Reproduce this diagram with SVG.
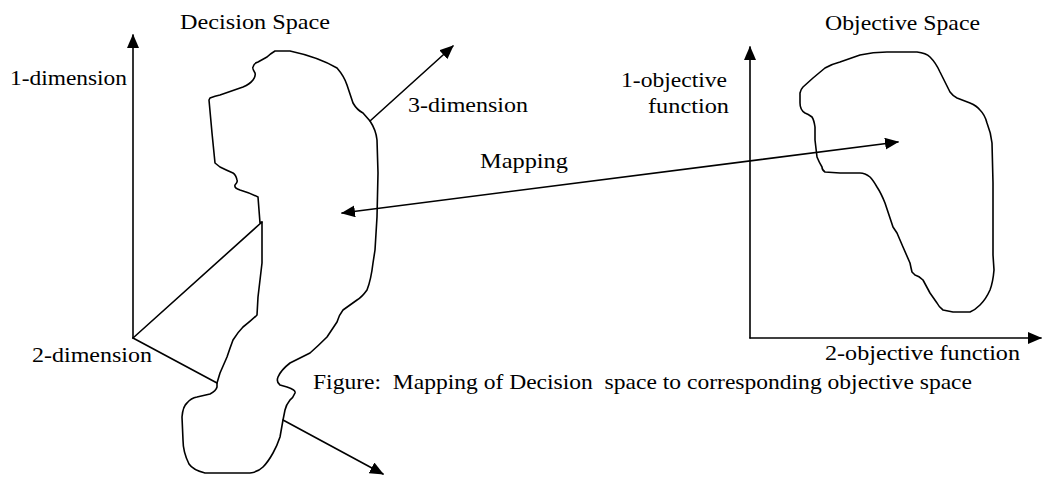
<svg xmlns="http://www.w3.org/2000/svg" width="1043" height="477" viewBox="0 0 1043 477">
<style>
text{font-family:"Liberation Serif","Times New Roman",serif;font-size:22px;fill:#000}
.ln{fill:none;stroke:#000;stroke-width:1.6;stroke-linejoin:round;stroke-linecap:round}
.blob{fill:none;stroke:#000;stroke-width:1.6;stroke-linejoin:round}
</style>
<defs>
<marker id="ah" viewBox="0 0 14 12" refX="13" refY="6" markerWidth="14" markerHeight="12" markerUnits="userSpaceOnUse" orient="auto-start-reverse">
<path d="M0,0 L14,6 L0,12 Z" fill="#000"/>
</marker>
</defs>
<rect width="1043" height="477" fill="#fff"/>

<g id="decision-space">
<path class="blob" d="M275,51 L290,51 Q318,57 337,68 Q344,76 347,85 L353,103 Q357,110 363,113 L370,121 Q376,130 377,140 L378,173 L377,217 L375,250 L373,263 Q371,280 367,290 Q362,297 357,300 L343,310 Q339,315 337,322 L327,337 Q318,346 310,353 L290,363 Q281,370 278,377 Q276,382 280,385 L287,387 Q296,390 295,393 Q293,398 290,400 Q286,405 285,410 L283,420 L280,437 Q277,446 273,453 Q268,462 263,467 Q258,472 250,473 L205,473 Q193,470 189,464 Q183,452 183,440 L182,417 Q183,406 187,403 Q191,398 197,397 L210,394 Q216,391 217,387 L217,383 L220,373 L227,357 Q230,348 233,340 Q238,332 243,327 Q252,320 257,315 L258,297 L262,263 L262,222 L260,223 L258,197 Q250,193 240,190 Q234,188 235,185 Q238,182 237,180 Q236,175 233,173 Q226,170 220,167 L215,163 L212,133 L209,100 L210,98 Q215,96 220,95 L243,87 Q250,84 253,80 Q256,76 255,73 Q252,68 253,67 Q254,63 258,62 L267,57 Q270,54 275,51 Z"/>
<text x="180" y="29" textLength="150" lengthAdjust="spacingAndGlyphs">Decision Space</text>
</g>

<g id="objective-space">
<path class="blob" d="M887,52 L917,52 Q926,53 930,57 Q936,63 940,72 L950,92 Q953,96 957,98 L970,103 Q977,106 980,110 Q985,115 987,123 Q991,133 992,143 L993,183 L993,255 L994,270 Q993,282 990,290 Q986,299 980,305 Q975,310 970,312 L953,312 L943,310 Q939,307 937,303 L930,293 L923,280 Q919,276 915,275 L912,272 Q911,268 910,263 L903,247 L897,233 L893,227 L885,203 Q881,193 877,187 Q873,180 870,177 Q865,173 860,173 L840,173 L825,172 Q822,170 822,167 Q819,162 817,157 L815,140 L815,127 Q814,120 812,117 Q808,114 805,113 Q800,110 800,103 L800,93 Q801,89 803,87 L813,78 L825,68 Q832,64 840,62 L860,55 Q873,52 887,52 Z"/>
<text x="825" y="30" textLength="155" lengthAdjust="spacingAndGlyphs">Objective Space</text>
</g>

<g id="labels">
<text x="10" y="85" textLength="117" lengthAdjust="spacingAndGlyphs">1-dimension</text>
<text x="408" y="112" textLength="120" lengthAdjust="spacingAndGlyphs">3-dimension</text>
<text x="480" y="168" textLength="88" lengthAdjust="spacingAndGlyphs">Mapping</text>
<text x="32" y="362" textLength="120" lengthAdjust="spacingAndGlyphs">2-dimension</text>
<text x="621" y="87" textLength="106" lengthAdjust="spacingAndGlyphs">1-objective</text>
<text x="648" y="113" textLength="81" lengthAdjust="spacingAndGlyphs">function</text>
<text x="825" y="360" textLength="195" lengthAdjust="spacingAndGlyphs">2-objective function</text>
<text x="313" y="389" textLength="659" lengthAdjust="spacingAndGlyphs" xml:space="preserve">Figure:  Mapping of Decision  space to corresponding objective space</text>
</g>

<g id="connectors">
<line class="ln" x1="133" y1="338" x2="133" y2="35" marker-end="url(#ah)"/>
<line class="ln" x1="133" y1="338" x2="262" y2="222"/>
<line class="ln" x1="133" y1="338" x2="217" y2="383"/>
<line class="ln" x1="370" y1="121" x2="453" y2="46" marker-end="url(#ah)"/>
<line class="ln" x1="283" y1="420" x2="383" y2="474" marker-end="url(#ah)"/>
<line class="ln" x1="342" y1="213" x2="898" y2="142" marker-start="url(#ah)" marker-end="url(#ah)"/>
<line class="ln" x1="750" y1="338" x2="750" y2="47" marker-end="url(#ah)"/>
<line class="ln" x1="750" y1="338" x2="1041" y2="338" marker-end="url(#ah)"/>
</g>
</svg>
